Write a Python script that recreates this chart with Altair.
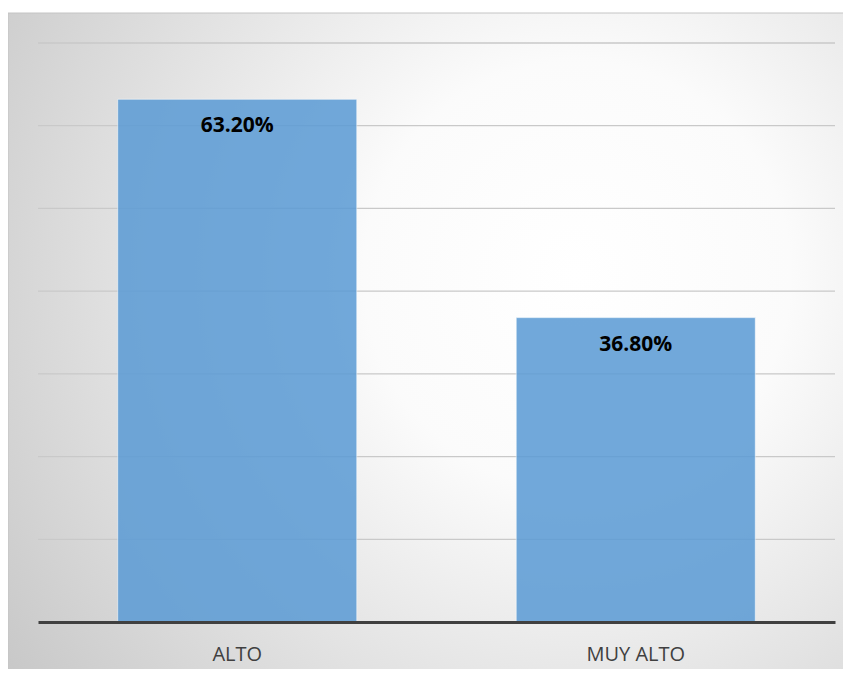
import altair as alt
import pandas as pd

categories = ["ALTO", "MUY ALTO"]
values = [63.20, 36.80]
labels = ["63.20%", "36.80%"]
grid_values = [10, 20, 30, 40, 50, 60, 70]

W, H = 797, 579

df = pd.DataFrame({"cat": categories, "val": values, "lab": labels})
gdf = pd.DataFrame({"g": grid_values})
bgdf = pd.DataFrame({"a": [0]})

yscale = alt.Scale(domain=[0, 70], nice=False)
xenc = alt.X("cat:N", sort=None, title=None,
             scale=alt.Scale(paddingInner=0.4, paddingOuter=0.2),
             axis=alt.Axis(zindex=1, domainColor="#404040", domainWidth=3,
                           ticks=False, labelAngle=0, labelFont="Open Sans",
                           labelFontSize=20, labelColor="#404040",
                           labelBaseline="alphabetic", labelPadding=38))

bg = alt.Chart(bgdf).mark_rect(
    color={"gradient": "radial",
           "x1": 0.68, "y1": 0.42, "r1": 0.0,
           "x2": 0.68, "y2": 0.42, "r2": 0.85,
           "stops": [{"offset": 0, "color": "#ffffff"},
                     {"offset": 0.3, "color": "#fbfbfb"},
                     {"offset": 1, "color": "#c6c6c6"}]},
    stroke="#c4c4c4", strokeWidth=1
).encode(x=alt.value(-30), x2=alt.value(W + 10), y=alt.value(-30), y2=alt.value(H + 50))

grid = alt.Chart(gdf).mark_rule(color="#c9c9c9", strokeWidth=1.3).encode(
    y=alt.Y("g:Q", scale=yscale, axis=None),
    x=alt.value(0), x2=alt.value(W))

bars = alt.Chart(df).mark_bar(color="#5B9BD5", opacity=0.86, stroke="#ffffff",
                              strokeWidth=1, strokeOpacity=0.6).encode(
    x=xenc,
    y=alt.Y("val:Q", scale=yscale, axis=None))

text = alt.Chart(df).mark_text(font="Open Sans", fontSize=21, fontWeight="bold",
                               color="#000000", baseline="alphabetic", dy=33).encode(
    x=alt.X("cat:N", sort=None),
    y=alt.Y("val:Q", scale=yscale),
    text="lab:N")

chart = alt.layer(bg, grid, bars, text).properties(
    width=W, height=H,
    autosize=alt.AutoSizeParams(type="none"),
    padding={"left": 30, "top": 35, "right": 8, "bottom": 47},
    background="white"
).configure_view(stroke=None)

chart.save("out.html", embed_options={"renderer": "svg", "actions": False})
